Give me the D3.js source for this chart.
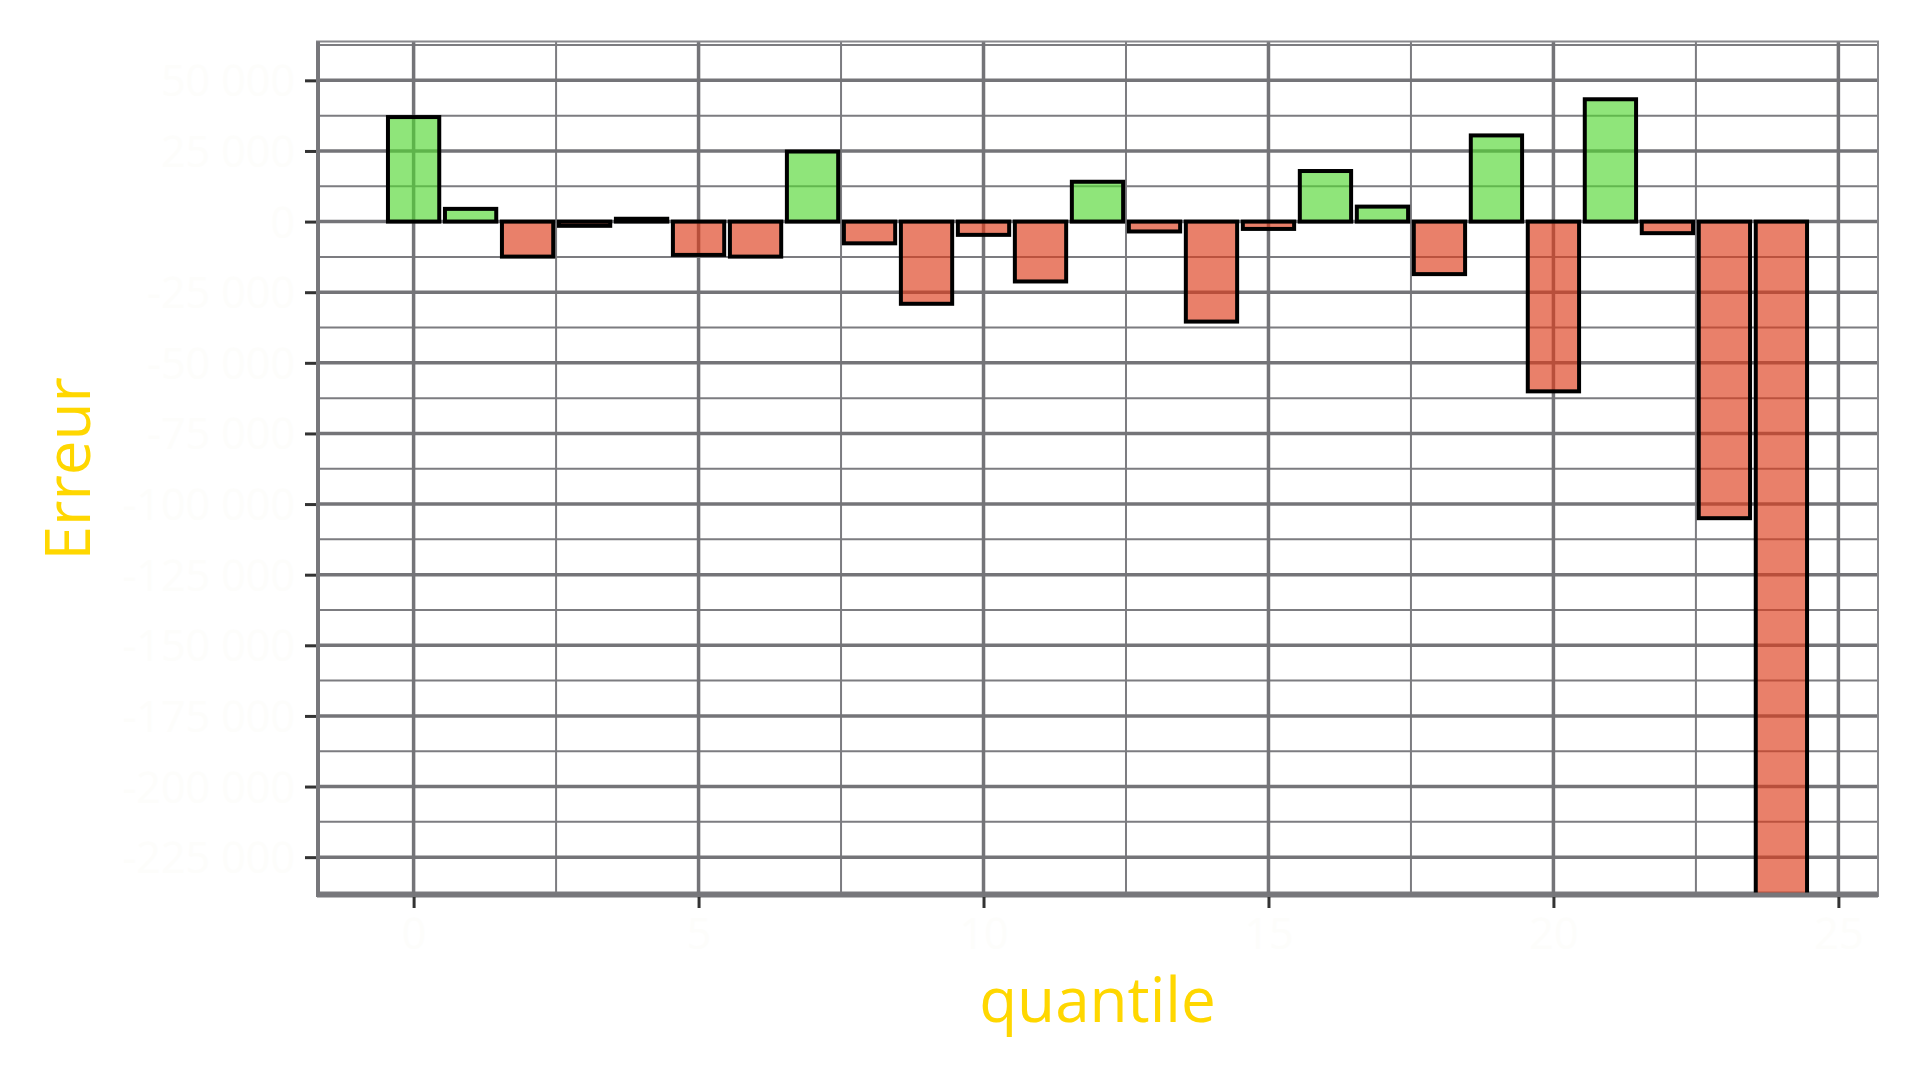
<!DOCTYPE html>
<html>
<head>
<meta charset="utf-8">
<script src="https://cdn.jsdelivr.net/npm/d3@7"></script>
<style>
  html, body { margin: 0; padding: 0; background: #ffffff; }
  svg { display: block; }
</style>
</head>
<body>
<svg id="chart" width="1920" height="1080"></svg>
<script>
// ---- data ----
const quantiles = [0,1,2,3,4,5,6,7,8,9,10,11,12,13,14,15,16,17,18,19,20,21,22,23,24];
const erreurs = [37000, 4500, -12400, -1500, 1000, -11800, -12400, 24800, -7700, -29100,
                 -4700, -21200, 14100, -3500, -35400, -2600, 17900, 5300, -18600, 30500,
                 -60100, 43300, -4100, -105000, -260000];
const yTicks = [50000, 25000, 0, -25000, -50000, -75000, -100000, -125000, -150000, -175000, -200000, -225000];
const yTickLabels = ["50 000", "25 000", "0", "-25 000", "-50 000", "-75 000", "-100 000", "-125 000", "-150 000", "-175 000", "-200 000", "-225 000"];
const yMinor = [62500, 37500, 12500, -12500, -37500, -62500, -87500, -112500, -137500, -162500, -187500, -212500, -237500];
const xTicks = [0, 5, 10, 15, 20, 25];
const xTickLabels = ["0", "5", "10", "15", "20", "25"];
const xMinor = [2.5, 7.5, 12.5, 17.5, 22.5];
const yLimits = [-225000, 50000];
const xLimits = [-0.45, 24.45];

// ---- layout ----
const L = 317, R = 1878, T = 41.5, B = 896;
const svg = d3.select("#chart");

const yExp = (yLimits[1] - yLimits[0]) * 0.05;
const xExp = (xLimits[1] - xLimits[0]) * 0.05;
const y = d3.scaleLinear().domain([yLimits[0] - yExp, yLimits[1] + yExp]).range([B, T]);
const x = d3.scaleLinear().domain([xLimits[0] - xExp, xLimits[1] + xExp]).range([L, R]);
const barW = x(0.9) - x(0);

svg.append("defs").append("clipPath").attr("id", "panel")
  .append("rect").attr("x", L).attr("y", T).attr("width", R - L).attr("height", B - T);

const panel = svg.append("g").attr("clip-path", "url(#panel)");
panel.append("rect").attr("x", L).attr("y", T).attr("width", R - L).attr("height", B - T).attr("fill", "#ffffff");

// minor grid
panel.selectAll("line.ymin").data(yMinor).join("line")
  .attr("x1", L).attr("x2", R).attr("y1", d => y(d)).attr("y2", d => y(d))
  .attr("stroke", "#7c7c80").attr("stroke-width", 2);
panel.selectAll("line.xmin").data(xMinor).join("line")
  .attr("y1", T).attr("y2", B).attr("x1", d => x(d)).attr("x2", d => x(d))
  .attr("stroke", "#7c7c80").attr("stroke-width", 2);
// major grid
panel.selectAll("line.ymaj").data(yTicks).join("line")
  .attr("x1", L).attr("x2", R).attr("y1", d => y(d)).attr("y2", d => y(d))
  .attr("stroke", "#747478").attr("stroke-width", 3.5);
panel.selectAll("line.xmaj").data(xTicks).join("line")
  .attr("y1", T).attr("y2", B).attr("x1", d => x(d)).attr("x2", d => x(d))
  .attr("stroke", "#747478").attr("stroke-width", 3.5);

// bars
const bars = quantiles.map((q, i) => ({ q, v: erreurs[i] }));
panel.selectAll("rect.bar").data(bars).join("rect")
  .attr("class", "bar")
  .attr("x", d => x(d.q) - barW / 2)
  .attr("width", barW)
  .attr("y", d => y(Math.max(0, d.v)))
  .attr("height", d => Math.abs(y(d.v) - y(0)))
  .attr("fill", d => d.v >= 0 ? "#53d733" : "#dd3c1a")
  .attr("fill-opacity", 0.65)
  .attr("stroke", "#000000")
  .attr("stroke-width", 4);

// panel border
svg.append("rect").attr("x", L).attr("y", T).attr("width", R - L).attr("height", B - T)
  .attr("fill", "none").attr("stroke", "#88888c").attr("stroke-width", 2);
// axis lines
svg.append("line").attr("x1", L + 1).attr("x2", L + 1).attr("y1", T).attr("y2", B + 1)
  .attr("stroke", "#77777b").attr("stroke-width", 4);
svg.append("line").attr("x1", L).attr("x2", R).attr("y1", B - 1).attr("y2", B - 1)
  .attr("stroke", "#77777b").attr("stroke-width", 5);

// axes ticks + labels via d3 axes
const yAxis = d3.axisLeft(y).tickValues(yTicks).tickSize(11).tickPadding(10)
  .tickFormat((d, i) => yTickLabels[i]);
const gy = svg.append("g").attr("transform", `translate(${L - 1},0)`).call(yAxis);
gy.select(".domain").remove();
gy.selectAll(".tick line").attr("stroke", "#333333").attr("stroke-width", 3);
gy.selectAll(".tick text").attr("fill", "#fdfdfb").attr("font-family", "Open Sans")
  .attr("font-size", 43).attr("dy", "0.36em");

const xAxis = d3.axisBottom(x).tickValues(xTicks).tickSize(11).tickPadding(10)
  .tickFormat((d, i) => xTickLabels[i]);
const gx = svg.append("g").attr("transform", `translate(0,${B + 1})`).call(xAxis);
gx.select(".domain").remove();
gx.selectAll(".tick line").attr("stroke", "#333333").attr("stroke-width", 3);
gx.selectAll(".tick text").attr("fill", "#fdfdfb").attr("font-family", "Open Sans")
  .attr("font-size", 43).attr("dy", "0.71em");

// titles
svg.append("text").attr("x", (L + R) / 2).attr("y", 1022)
  .attr("text-anchor", "middle").attr("fill", "#ffd700")
  .attr("font-family", "Open Sans").attr("font-size", 62).text("quantile");
svg.append("text").attr("transform", `translate(90,${(T + B) / 2}) rotate(-90)`)
  .attr("text-anchor", "middle").attr("fill", "#ffd700")
  .attr("font-family", "Open Sans").attr("font-size", 62).text("Erreur");
</script>
</body>
</html>
